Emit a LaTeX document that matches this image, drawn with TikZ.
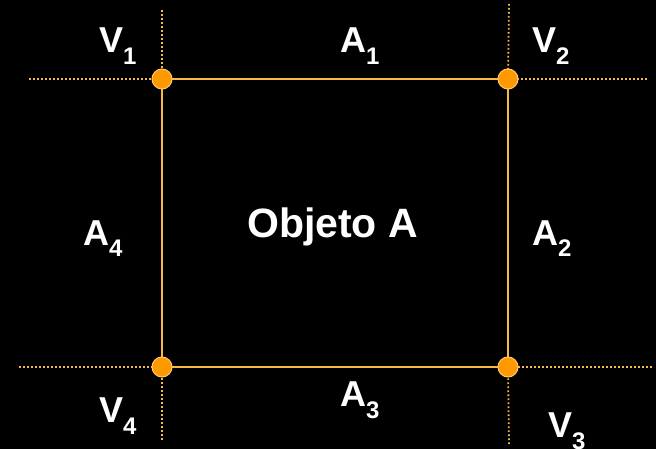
\documentclass[tikz,border=0pt]{standalone}
\usepackage{fontspec}
\setmainfont{Liberation Sans}
\definecolor{edgeor}{RGB}{245,185,70}
\definecolor{dotor}{RGB}{255,153,0}
\definecolor{dotrim}{RGB}{255,200,110}
\begin{document}
\begin{tikzpicture}[x=1pt,y=-1pt,
  vertex/.style={circle,fill=dotor,draw=dotrim,line width=1pt,minimum size=20pt,inner sep=0pt},
  edgeline/.style={draw=edgeor,line width=2pt},
  guide/.style={draw=edgeor,line width=1.8pt,dash pattern=on 1.6pt off 2.4pt},
  lbl/.style={anchor=base west,inner sep=0pt,text=white,font=\fontsize{36}{36}\selectfont\bfseries},
  big/.style={anchor=base west,inner sep=0pt,text=white,font=\fontsize{41}{41}\selectfont\bfseries}]
\newcommand{\sbs}[1]{\raisebox{-12pt}{\fontsize{24}{24}\selectfont #1}}
\fill[black] (0,0) rectangle (656,449);
\useasboundingbox (0,0) rectangle (656,449);
% guide end points
\coordinate (g1l) at (29,79);
\coordinate (g1u) at (162,10);
\coordinate (g2r) at (647,79);
\coordinate (g2u) at (509,4);
\coordinate (g4l) at (19,367);
\coordinate (g4d) at (162,440);
\coordinate (g3r) at (652,367);
\coordinate (g3d) at (509,444);
% vertex positions
\coordinate (p1) at (162,79);
\coordinate (p2) at (508,79);
\coordinate (p3) at (508,367);
\coordinate (p4) at (162,367);
\draw[guide] (g1l) -- (p1);
\draw[guide] (g1u) -- (p1);
\draw[guide] (g2r) -- (p2);
\draw[guide] (g2u) -- (p2);
\draw[guide] (g4l) -- (p4);
\draw[guide] (g4d) -- (p4);
\draw[guide] (g3r) -- (p3);
\draw[guide] (g3d) -- (p3);
\draw[edgeline] (p1) -- (p2) -- (p3) -- (p4) -- cycle;
\node[vertex] (v1) at (p1) {};
\node[vertex] (v2) at (p2) {};
\node[vertex] (v3) at (p3) {};
\node[vertex] (v4) at (p4) {};
% labels
\node[lbl] (l1) at (99,53) {V\sbs{1}};
\node[lbl] (a1) at (340,53) {A\sbs{1}};
\node[lbl] (l2) at (532,53) {V\sbs{2}};
\node[lbl] (a4) at (83,245) {A\sbs{4}};
\node[lbl] (a2) at (532,245) {A\sbs{2}};
\node[lbl] (l4) at (99,422) {V\sbs{4}};
\node[lbl] (a3) at (340,406) {A\sbs{3}};
\node[lbl] (l3) at (548,437) {V\sbs{3}};
\node[big] (obj) at (247,237) {Objeto A};
\end{tikzpicture}
\end{document}
